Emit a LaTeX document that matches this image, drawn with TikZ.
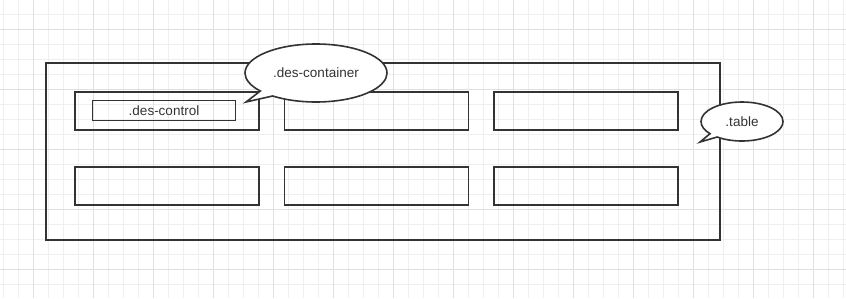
\documentclass[tikz,border=0pt]{standalone}
\usepackage{fontspec}
\setmainfont{Liberation Sans}
\usetikzlibrary{shapes.callouts}

\definecolor{ink}{HTML}{333333}
\definecolor{gridminor}{HTML}{EFEFEF}
\definecolor{gridmajor}{HTML}{E0E0E0}

\tikzset{
  frame/.style={draw=ink, line width=1.8pt, inner sep=0pt, rectangle},
  cell/.style={frame, minimum width=184pt, minimum height=38pt},
  bubble/.style={ellipse callout, draw=ink, fill=white, line width=1.6pt,
    inner sep=0pt, callout pointer arc=14},
}

\begin{document}
\begin{tikzpicture}[x=1pt, y=-1pt, font=\fontsize{13.5}{16}\selectfont, text=ink]
  \def\colStep{209.5}
  \def\rowStep{75}

  \useasboundingbox (0,0) rectangle (846,298);

  % grid paper
  \foreach \i in {0,...,56}
    \draw[gridminor, line width=1pt] ({3.3+15*\i},0) -- ({3.3+15*\i},298);
  \foreach \j in {0,...,19}
    \draw[gridminor, line width=1pt] (0,{14.3+15*\j}) -- (846,{14.3+15*\j});
  \foreach \i in {0,...,13}
    \draw[gridmajor, line width=1pt] ({33.3+60*\i},0) -- ({33.3+60*\i},298);
  \foreach \j in {0,...,4}
    \draw[gridmajor, line width=1pt] (0,{29.3+60*\j}) -- (846,{29.3+60*\j});

  % outer table
  \node[frame, minimum width=674pt, minimum height=177pt] (table) at (383,151.5) {};

  % two rows of three cells
  \foreach \r in {0,1}
    \foreach \c in {0,1,2}
      \node[cell] (cell-\r-\c) at ({167+\colStep*\c},{111+\rowStep*\r}) {};

  % control inside the first cell
  \node[frame, minimum width=143pt, minimum height=20pt] (control) at (164,110.5) {.des-control};

  % callouts
  \coordinate (tipContainer) at (246,102);
  \coordinate (tipTable) at (700,142);
  \node[bubble, minimum width=142pt, minimum height=58pt,
        callout absolute pointer={(tipContainer)}] (container) at (316,73) {.des-container};
  \node[bubble, minimum width=82pt, minimum height=39pt,
        callout absolute pointer={(tipTable)}] (tablenote) at (742,121.5) {.table};
\end{tikzpicture}
\end{document}
